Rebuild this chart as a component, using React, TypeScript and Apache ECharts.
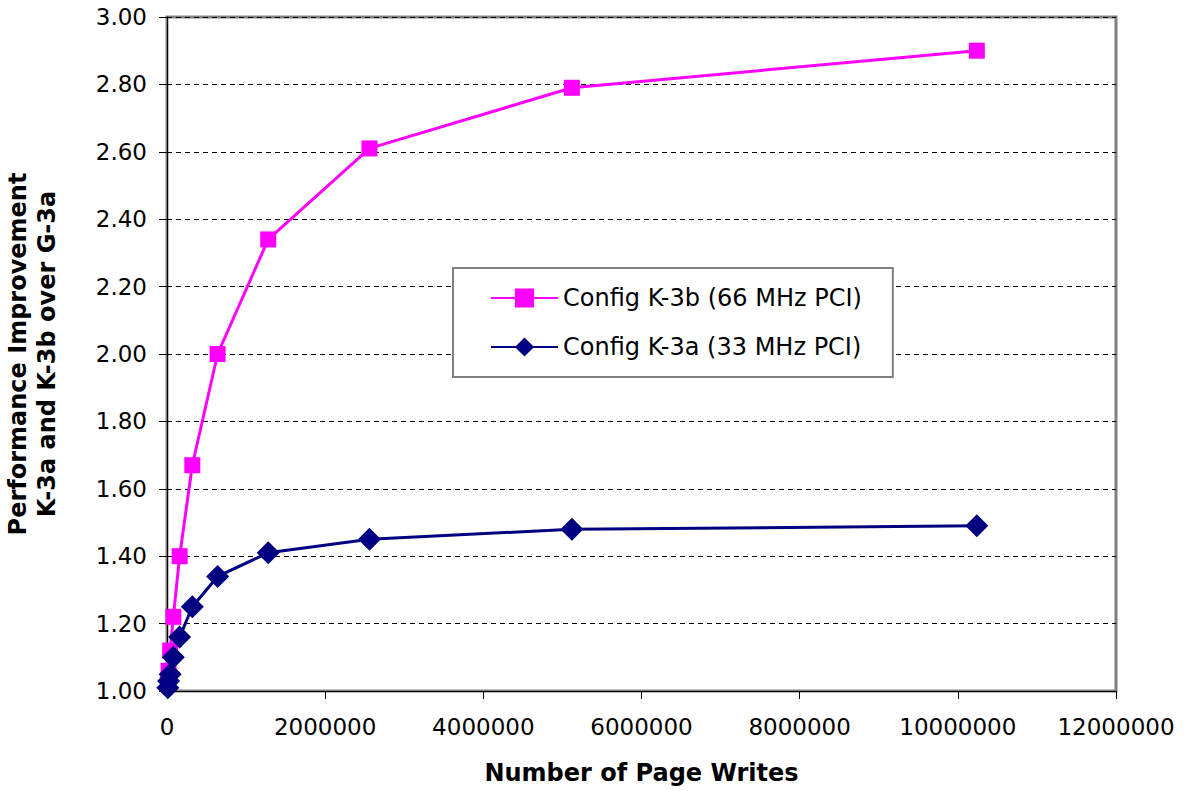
import React, { useEffect, useRef } from "react";
import * as echarts from "echarts";

const pageWrites = [10000, 20000, 40000, 80000, 160000, 320000, 640000, 1280000, 2560000, 5120000, 10240000];
const k3bValues = [1.03, 1.06, 1.12, 1.22, 1.40, 1.67, 2.00, 2.34, 2.61, 2.79, 2.90];
const k3aValues = [1.01, 1.03, 1.05, 1.10, 1.16, 1.25, 1.34, 1.41, 1.45, 1.48, 1.49];
const seriesNames = ["Config K-3b (66 MHz PCI)", "Config K-3a (33 MHz PCI)"];
const xAxisTitle = "Number of Page Writes";
const yAxisTitle = "Performance Improvement\nK-3a and K-3b over G-3a";

const FONT = "'DejaVu Sans', sans-serif";

export default function App() {
  const ref = useRef<HTMLDivElement>(null);
  useEffect(() => {
    if (!ref.current) return;
    const chart = echarts.init(ref.current, null, { renderer: "svg" });
    const pair = (vals: number[]) => pageWrites.map((x, i) => [x, vals[i]]);
    chart.setOption({
      animation: false,
      backgroundColor: "#fff",
      grid: {
        left: 167,
        right: 74,
        top: 17,
        bottom: 100,
        containLabel: false,
        outerBoundsMode: "none",
        show: true,
        borderColor: "#808080",
        borderWidth: 3,
        backgroundColor: "transparent",
      },
      legend: {
        orient: "vertical",
        left: 453,
        top: 268,
        padding: [18, 31, 18, 37],
        itemGap: 25,
        itemWidth: 67,
        itemHeight: 24,
        backgroundColor: "#fff",
        borderColor: "#808080",
        borderWidth: 2,
        textStyle: { fontFamily: FONT, fontSize: 24, color: "#000" },
        data: seriesNames,
      },
      xAxis: {
        type: "value",
        min: 0,
        max: 12000000,
        interval: 2000000,
        name: xAxisTitle,
        nameLocation: "middle",
        nameGap: 70,
        nameTextStyle: { fontFamily: FONT, fontSize: 24, fontWeight: "bold", color: "#000" },
        axisLine: { show: true, onZero: false, lineStyle: { color: "#000", width: 1 } },
        axisTick: { show: true, inside: false, length: 8, lineStyle: { color: "#000", width: 1 } },
        axisLabel: {
          fontFamily: FONT,
          fontSize: 23,
          color: "#000",
          margin: 24,
          formatter: (v: number) => String(v),
        },
        splitLine: { show: false },
      },
      yAxis: {
        type: "value",
        min: 1,
        max: 3,
        interval: 0.2,
        name: yAxisTitle,
        nameLocation: "middle",
        nameGap: 106,
        nameRotate: 90,
        nameTextStyle: {
          fontFamily: FONT,
          fontSize: 24,
          fontWeight: "bold",
          color: "#000",
          lineHeight: 29,
        },
        axisLine: { show: true, lineStyle: { color: "#000", width: 1 } },
        axisTick: { show: true, inside: false, length: 8, lineStyle: { color: "#000", width: 1 } },
        axisLabel: {
          fontFamily: FONT,
          fontSize: 23,
          color: "#000",
          margin: 20,
          formatter: (v: number) => v.toFixed(2),
        },
        splitLine: { show: true, lineStyle: { color: "#000", width: 1, type: [5, 4] } },
      },
      series: [
        {
          name: seriesNames[0],
          type: "line",
          data: pair(k3bValues),
          symbol: "rect",
          symbolSize: 16,
          itemStyle: { color: "#FF00FF" },
          lineStyle: { color: "#FF00FF", width: 3 },
        },
        {
          name: seriesNames[1],
          type: "line",
          data: pair(k3aValues),
          symbol: "diamond",
          symbolSize: 23,
          itemStyle: { color: "#000080" },
          lineStyle: { color: "#000080", width: 3 },
        },
      ],
    });
    return () => chart.dispose();
  }, []);
  return (
    <div
      ref={ref}
      style={{ position: "absolute", left: 0, top: 0, width: 1190, height: 791 }}
    />
  );
}
